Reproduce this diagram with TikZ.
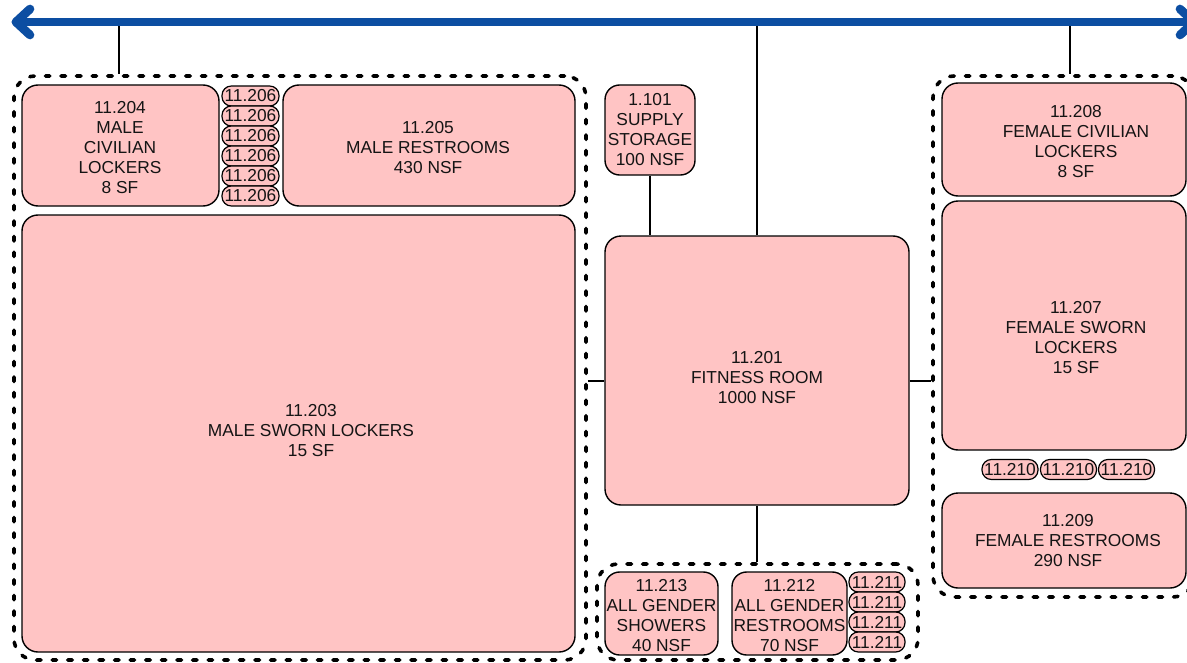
\documentclass[tikz,border=0pt]{standalone}
\usepackage{fontspec}
\setmainfont{Liberation Sans}
\usetikzlibrary{fit}
\definecolor{roompink}{RGB}{255,196,196}
\definecolor{arrowblue}{RGB}{12,78,162}
\definecolor{inkgray}{RGB}{20,20,20}
\begin{document}
\begin{tikzpicture}[x=0.75pt,y=-0.75pt,
  room/.style={draw=black, fill=roompink, line width=1.05pt, rounded corners=12pt, inner sep=0pt},
  smallroom/.style={room, rounded corners=11pt},
  group/.style={draw=black, line width=2.7pt, dash pattern=on 3.4pt off 8.3pt, line cap=round, rounded corners=16pt, inner sep=0pt},
  pill/.style={draw=black, fill=roompink, line width=0.9pt, rounded corners=7pt, inner sep=0pt, minimum height=15pt, text=inkgray, font=\fontsize{13}{15}\selectfont},
  rtext/.style={align=center, inner sep=0pt, font=\fontsize{13}{15}\selectfont, text=inkgray},
  link/.style={draw=black, line width=1.1pt},
  bluearrow/.style={draw=arrowblue, line width=6.5pt, line cap=round, line join=round}
]
\useasboundingbox (0,0) rectangle (1187,663);

% groups
\node[group, fit={(14,76) (586,660)}] (gl) {};
\node[group, fit={(597,564) (918,660)}] (gb) {};
\node[group, fit={(933,76) (1194,597)}] (gr) {};

% rooms
\node[room, fit={(22,85) (219,206)}] (r204) {};
\node[room, fit={(283,85) (575,206)}] (r205) {};
\node[room, fit={(22,215) (575,652)}] (r203) {};
\node[smallroom, fit={(605,85) (695,175)}] (r101) {};
\node[room, fit={(605,236) (909,505)}] (r201) {};
\node[smallroom, fit={(605,572) (718,655)}] (r213) {};
\node[smallroom, fit={(732,572) (847,655)}] (r212) {};
\node[room, fit={(942,83) (1186,196)}] (r208) {};
\node[room, fit={(942,201) (1186,450)}] (r207) {};
\node[room, fit={(942,493) (1186,588)}] (r209) {};

% pills
\node[pill, minimum width=42.75pt] (p206a) at (250.5,96) {11.206};
\node[pill, minimum width=42.75pt] (p206b) at (250.5,116) {11.206};
\node[pill, minimum width=42.75pt] (p206c) at (250.5,136) {11.206};
\node[pill, minimum width=42.75pt] (p206d) at (250.5,156) {11.206};
\node[pill, minimum width=42.75pt] (p206e) at (250.5,176) {11.206};
\node[pill, minimum width=42.75pt] (p206f) at (250.5,196) {11.206};
\node[pill, minimum width=42pt] (p211a) at (877,582) {11.211};
\node[pill, minimum width=42pt] (p211b) at (877,602) {11.211};
\node[pill, minimum width=42pt] (p211c) at (877,622) {11.211};
\node[pill, minimum width=42pt] (p211d) at (877,642) {11.211};
\node[pill, minimum width=42pt] (p210a) at (1010,469.5) {11.210};
\node[pill, minimum width=42pt] (p210b) at (1068.5,469.5) {11.210};
\node[pill, minimum width=42pt] (p210c) at (1126.5,469.5) {11.210};

% room texts
\node[rtext] (t204) at (120,148) {11.204\\MALE\\CIVILIAN\\LOCKERS\\8 SF};
\node[rtext] (t205) at (428,148) {11.205\\MALE RESTROOMS\\430 NSF};
\node[rtext] (t203) at (311,431) {11.203\\MALE SWORN LOCKERS\\15 SF};
\node[rtext] (t101) at (650,130) {1.101\\SUPPLY\\STORAGE\\100 NSF};
\node[rtext] (t201) at (757,377.5) {11.201\\FITNESS ROOM\\1000 NSF};
\node[rtext] (t213) at (661.5,616) {11.213\\ALL GENDER\\SHOWERS\\40 NSF};
\node[rtext] (t212) at (789.5,616) {11.212\\ALL GENDER\\RESTROOMS\\70 NSF};
\node[rtext] (t208) at (1076,142) {11.208\\FEMALE CIVILIAN\\LOCKERS\\8 SF};
\node[rtext] (t207) at (1076,338) {11.207\\FEMALE SWORN\\LOCKERS\\15 SF};
\node[rtext] (t209) at (1068,541) {11.209\\FEMALE RESTROOMS\\290 NSF};

% connectors
\coordinate (c1) at (119,22);
\coordinate (c2) at (757,22);
\coordinate (c3) at (1070,22);
\coordinate (hy) at (0,381);
\draw[link] (c1) -- (c1 |- gl.north);
\draw[link] (c2) -- (r201.north);
\draw[link] (c3) -- (c3 |- gr.north);
\draw[link] (r101.south) -- (r101.south |- r201.north);
\draw[link] (gl.east |- hy) -- (r201.west |- hy);
\draw[link] (r201.east |- hy) -- (gr.west |- hy);
\draw[link] (r201.south) -- (r201.south |- gb.north);

% blue double arrow
\coordinate (bl) at (16,22);
\coordinate (br) at (1194,22);
\draw[bluearrow] (bl) -- (br);
\draw[bluearrow] (bl) ++(14,-13) -- (bl) -- ++(14,13);
\draw[bluearrow] (br) ++(-14,-13) -- (br) -- ++(-14,13);
\end{tikzpicture}
\end{document}
